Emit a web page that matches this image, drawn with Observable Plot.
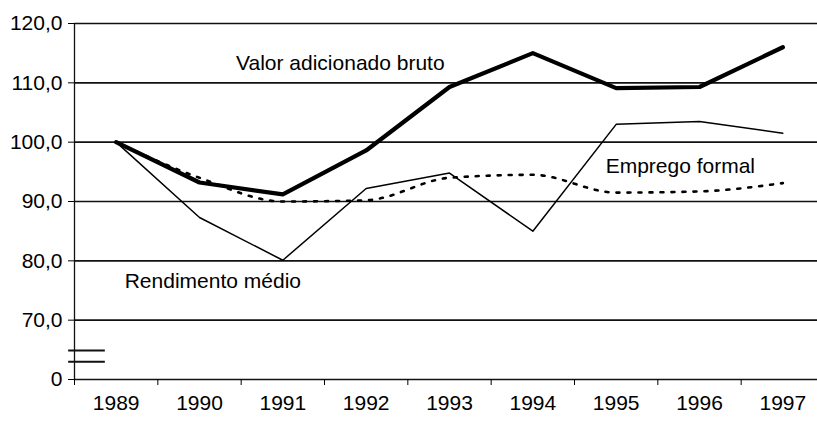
<!DOCTYPE html>
<html>
<head>
<meta charset="utf-8">
<script src="https://cdn.jsdelivr.net/npm/d3@7"></script>
<script src="https://cdn.jsdelivr.net/npm/@observablehq/plot@0.6"></script>
<style>
  html, body { margin: 0; padding: 0; background: #fff; }
  #chart svg { font-family: "Liberation Sans", Arial, sans-serif; }
</style>
</head>
<body>
<div id="chart"></div>
<script>
const years = ["1989","1990","1991","1992","1993","1994","1995","1996","1997"];
const valorAdicionado = [100.0, 93.2, 91.2, 98.6, 109.3, 115.0, 109.1, 109.3, 116.0];
const rendimentoMedio = [100.0, 87.3, 80.1, 92.2, 94.8, 85.0, 103.0, 103.5, 101.5];
const empregoFormal   = [100.0, 94.0, 90.0, 90.2, 94.0, 94.5, 91.5, 91.7, 93.1];
const yTicks = [60, 70, 80, 90, 100, 110, 120];
const yTickLabels = ["0", "70,0", "80,0", "90,0", "100,0", "110,0", "120,0"];
const axisBreaks = [64.9, 63.0];
const seriesLabels = [
  {text: "Valor adicionado bruto", pos: 3.19, val: 113.3},
  {text: "Emprego formal", pos: 7.27, val: 95.9},
  {text: "Rendimento médio", pos: 1.66, val: 76.5}
];

const pts = (vals) => vals.map((v, i) => ({x: i + 0.5, y: v}));

const chart = Plot.plot({
  width: 817,
  height: 421,
  marginTop: 23,
  marginBottom: 42,
  marginLeft: 74,
  marginRight: 0,
  x: {domain: [0, 9], range: [74, 824]},
  y: {domain: [60, 120]},
  style: {fontSize: "21px", color: "#000", background: "#fff"},
  marks: [
    Plot.ruleY(yTicks, {stroke: "#111", strokeWidth: 1.6}),
    Plot.ruleX([0], {y1: 60, y2: 120, stroke: "#111", strokeWidth: 1.3}),
    Plot.ruleY(axisBreaks, {x1: -0.07, x2: 0.37, stroke: "#111", strokeWidth: 2}),
    Plot.axisY({ticks: yTicks, tickFormat: (d) => yTickLabels[yTicks.indexOf(d)], tickSize: 6, tickPadding: 6, label: null, fontSize: 21}),
    Plot.axisX({ticks: d3.range(0, 10), tickFormat: () => "", tickSize: 6, label: null}),
    Plot.axisX({ticks: d3.range(0, 9).map((i) => i + 0.5), tickFormat: (d) => years[Math.floor(d)], tickSize: 0, tickPadding: 16, label: null, fontSize: 21}),
    Plot.line(pts(empregoFormal), {x: "x", y: "y", stroke: "#000", strokeWidth: 2.6, strokeDasharray: "3,8", curve: "monotone-x"}),
    Plot.line(pts(rendimentoMedio), {x: "x", y: "y", stroke: "#000", strokeWidth: 1.5}),
    Plot.line(pts(valorAdicionado), {x: "x", y: "y", stroke: "#000", strokeWidth: 4.2}),
    Plot.text(seriesLabels, {x: "pos", y: "val", text: "text", fontSize: 21, fill: "#000"})
  ]
});
document.getElementById("chart").appendChild(chart);
</script>
</body>
</html>
